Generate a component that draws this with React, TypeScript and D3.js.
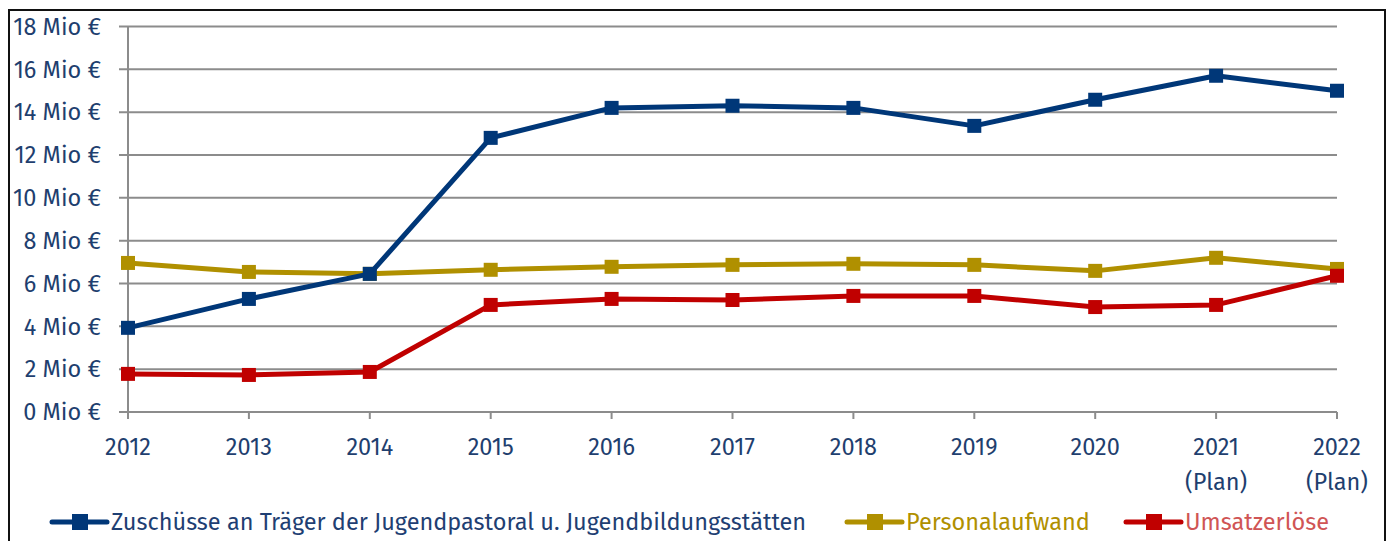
import { useEffect, useRef } from 'react'
import * as d3 from 'd3';

const years = ['2012', '2013', '2014', '2015', '2016', '2017', '2018', '2019', '2020', '2021', '2022'];
const yearNotes = ['', '', '', '', '', '', '', '', '', '(Plan)', '(Plan)'];
const zuschuesse = [3.93, 5.28, 6.45, 12.8, 14.2, 14.3, 14.2, 13.36, 14.58, 15.7, 15.0];
const personal = [6.96, 6.54, 6.45, 6.64, 6.78, 6.87, 6.92, 6.87, 6.59, 7.2, 6.68];
const umsatz = [1.78, 1.73, 1.87, 5.0, 5.28, 5.23, 5.42, 5.42, 4.9, 5.0, 6.36];
const yTicks = [0, 2, 4, 6, 8, 10, 12, 14, 16, 18];

const seriesNames = ['Zuschüsse an Träger der Jugendpastoral u. Jugendbildungsstätten', 'Personalaufwand', 'Umsatzerlöse'];
const seriesColors = ['#003778', '#b09000', '#c00000'];
const legendTextColors = ['#1f3f73', '#b09000', '#d05555'];

const App = () => {
  const canvas = useRef<SVGSVGElement>(null);

  useEffect(() => {
    const svg = d3.select(canvas.current);
    svg.selectAll('*').remove();

    const font = "'Fira Sans', 'Noto Sans', sans-serif";
    const fs = 23.5;
    const textBlue = '#1f3f6f';

    // frame
    svg.append('rect')
      .attr('x', 9).attr('y', 10)
      .attr('width', 1376).attr('height', 540)
      .attr('fill', 'white').attr('stroke', '#111').attr('stroke-width', 2);

    const x = d3.scalePoint().domain(years).range([128, 1337]);
    const y = d3.scaleLinear().domain([0, 18]).range([412, 26.5]);

    // gridlines
    svg.append('g')
      .selectAll('line')
      .data(yTicks)
      .join('line')
      .attr('x1', 119).attr('x2', 1337)
      .attr('y1', d => y(d)).attr('y2', d => y(d))
      .attr('stroke', '#8c8c8c').attr('stroke-width', 2);

    // y axis line
    svg.append('line')
      .attr('x1', 128).attr('x2', 128)
      .attr('y1', y(18)).attr('y2', y(0) + 7)
      .attr('stroke', '#8c8c8c').attr('stroke-width', 2);

    // x ticks
    svg.append('g')
      .selectAll('line')
      .data(years)
      .join('line')
      .attr('x1', d => x(d)!).attr('x2', d => x(d)!)
      .attr('y1', y(0)).attr('y2', y(0) + 7)
      .attr('stroke', '#8c8c8c').attr('stroke-width', 2);

    // y labels
    svg.append('g')
      .selectAll('text')
      .data(yTicks)
      .join('text')
      .attr('x', 101).attr('y', d => y(d))
      .attr('dy', '0.35em')
      .attr('text-anchor', 'end')
      .attr('font-family', font).attr('font-size', fs)
      .attr('fill', textBlue)
      .text(d => `${d} Mio €`);

    // x labels
    const xl = svg.append('g')
      .selectAll('text')
      .data(years)
      .join('text')
      .attr('x', d => x(d)!).attr('y', 455)
      .attr('text-anchor', 'middle')
      .attr('font-family', font).attr('font-size', fs)
      .attr('fill', textBlue);
    xl.append('tspan').text(d => d);
    xl.append('tspan')
      .attr('x', d => x(d)!).attr('dy', 35)
      .text((d, i) => yearNotes[i]);

    // series
    const allSeries = [zuschuesse, personal, umsatz];
    const line = d3.line<number>().x((d, i) => x(years[i])!).y(d => y(d));
    const drawOrder = [1, 2, 0];
    drawOrder.forEach(s => {
      const g = svg.append('g');
      g.append('path')
        .attr('d', line(allSeries[s]))
        .attr('fill', 'none')
        .attr('stroke', seriesColors[s])
        .attr('stroke-width', 5)
        .attr('stroke-linejoin', 'round');
      g.selectAll('rect')
        .data(allSeries[s])
        .join('rect')
        .attr('x', (d, i) => x(years[i])! - 7)
        .attr('y', d => y(d) - 7)
        .attr('width', 14).attr('height', 14)
        .attr('fill', seriesColors[s]);
    });

    // legend
    const legendX = [52, 847, 1126];
    const legendY = 522;
    seriesNames.forEach((name, s) => {
      const g = svg.append('g').attr('transform', `translate(${legendX[s]},${legendY})`);
      g.append('line')
        .attr('x1', 0).attr('x2', 55)
        .attr('stroke', seriesColors[s]).attr('stroke-width', 5)
        .attr('stroke-linecap', 'round');
      g.append('rect')
        .attr('x', 20).attr('y', -8)
        .attr('width', 16).attr('height', 16)
        .attr('fill', seriesColors[s]);
      g.append('text')
        .attr('x', 59).attr('dy', '0.35em')
        .attr('font-family', font).attr('font-size', fs)
        .attr('fill', legendTextColors[s])
        .text(name);
    });
  }, []);

  return (
    <svg ref={canvas} width={1391} height={541}
      style={{ position: 'absolute', left: 0, top: 0, display: 'block' }} />
  );
}

export default App;
